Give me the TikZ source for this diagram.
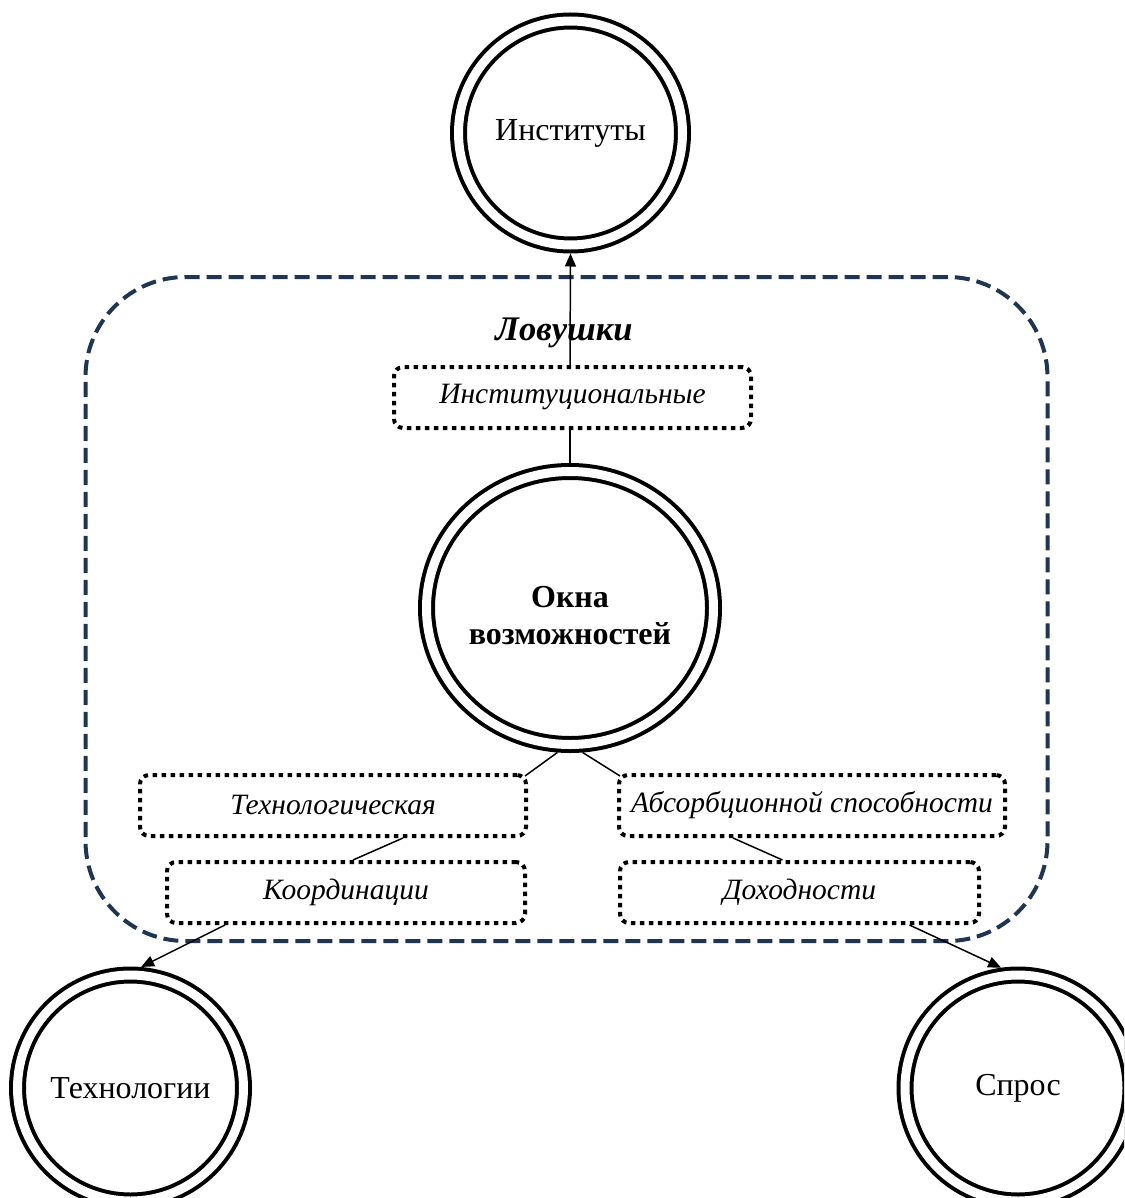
\documentclass[tikz,border=0pt]{standalone}
\usepackage{fontspec}
\setmainfont{Liberation Serif}
\usetikzlibrary{arrows.meta,shapes.geometric,calc}
\definecolor{navy}{HTML}{1F3550}
\begin{document}
\begin{tikzpicture}[x=1pt,y=-1pt,
  dbl/.style={draw,line width=4pt,double,double distance=9pt,outer sep=8.5pt,inner sep=0pt,font=\fontsize{32}{36}\selectfont},
  dcirc/.style={dbl,circle,minimum size=#1},
  trapbox/.style={draw,line width=4pt,dash pattern=on 4.5pt off 4.5pt,rounded corners=9pt,inner sep=0pt,minimum height=61pt,font=\fontsize{29.5}{33}\selectfont\itshape},
  conn/.style={line width=1.5pt},
  arr/.style={conn,-{Triangle[length=13pt,width=11pt]}}]
\clip (0,0) rectangle (1124,1198);
\useasboundingbox (0,0) rectangle (1124,1198);

% frame
\node[draw=navy,line width=4pt,dash pattern=on 15pt off 7pt,rounded corners=100pt,minimum width=962pt,minimum height=664pt,inner sep=0pt] (frame) at (566.5,609) {};
\node[font=\fontsize{34.5}{38}\selectfont\bfseries\itshape] (lov) at (564,333) {Ловушки};

% circles
\node[dcirc=224pt] (inst) at (570.5,133) {Институты};
\node[dbl,ellipse,minimum width=287pt,minimum height=273pt] (okna) at (570,608) {};
\node[align=center,font=\fontsize{32}{37}\selectfont\bfseries] (oknat) at ([yshift=-8pt]okna.center) {Окна\\возможностей};
\node[dcirc=226pt] (techc) at (130.5,1088) {Технологии};
\node[dcirc=226pt] (spros) at (1018,1088) {Спрос};

% trap boxes
\node[trapbox,minimum width=357pt] (instb) at (572.5,397.5) {Институциональные};
\node[trapbox,minimum width=386pt] (tech) at (333,805.5) {Технологическая};
\node[trapbox,minimum width=386pt] (absorb) at (812,805.5) {Абсорбционной способности};
\node[trapbox,minimum width=358pt] (coord) at (346,892.5) {Координации};
\node[trapbox,minimum width=359pt] (dohod) at (799.5,892.5) {Доходности};

% connectors
\draw[conn] (okna.north) -- (okna.north |- instb.south);
\draw[arr] (okna.north |- instb.north) -- (inst.south);
\draw[conn] (okna.265) -- ([xshift=-3pt,yshift=-3pt]tech.north east);
\draw[conn] (okna.275) -- ([xshift=3pt,yshift=-3pt]absorb.north west);
\draw[conn] ([xshift=70pt]tech.south) -- ([xshift=7pt]coord.north);
\draw[conn] ([xshift=-79pt]absorb.south) -- ([xshift=-17pt]dohod.north);
\draw[arr] ([xshift=-121pt]coord.south) -- (techc.85);
\draw[arr] ([xshift=110pt]dohod.south) -- (spros.98);
\end{tikzpicture}
\end{document}
